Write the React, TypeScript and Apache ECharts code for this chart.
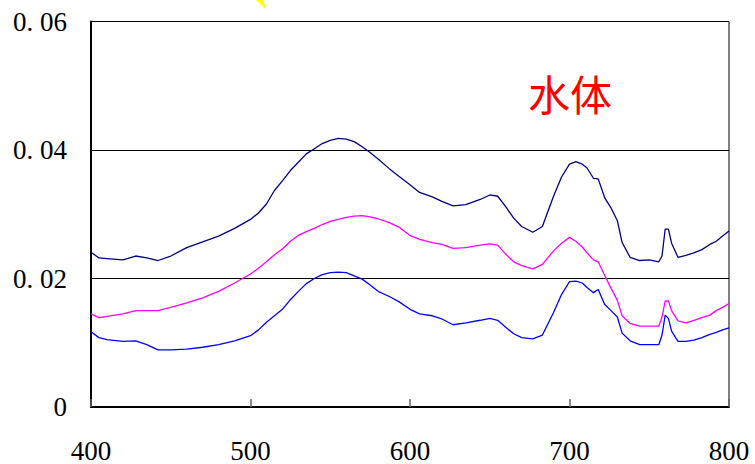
import React, { useEffect, useRef } from "react";
import * as echarts from "echarts";

const wavelengths = [400,405,410,420,428,435,442,450,460,470,480,490,500,505,510,515,520,525,530,535,540,545,550,555,560,565,570,575,580,587,593,600,606,614,620,627,635,644,650,655,660,665,670,677,683,690,695,700,704,708,711,715,718,722,726,730,733,738,744,750,756,758,760,762,764,768,773,778,783,788,792,796,800];

const navyValues = [0.0241,0.0232,0.0231,0.0229,0.0235,0.0232,0.0228,0.0235,0.0248,0.0257,0.0266,0.0278,0.0292,0.0302,0.0316,0.0337,0.0352,0.0368,0.0381,0.0394,0.0402,0.0410,0.0415,0.0418,0.0417,0.0413,0.0405,0.0396,0.0386,0.0371,0.0359,0.0346,0.0334,0.0327,0.0320,0.0313,0.0315,0.0323,0.0330,0.0328,0.0312,0.0294,0.0281,0.0272,0.0281,0.0328,0.0358,0.0378,0.0382,0.0378,0.0372,0.0356,0.0355,0.0326,0.0310,0.0290,0.0256,0.0233,0.0228,0.0229,0.0226,0.0235,0.0277,0.0277,0.0255,0.0233,0.0236,0.0240,0.0245,0.0253,0.0258,0.0266,0.0274];

const magentaValues = [0.0145,0.0139,0.0141,0.0145,0.0150,0.0150,0.0150,0.0155,0.0162,0.0170,0.0180,0.0193,0.0207,0.0216,0.0226,0.0237,0.0246,0.0258,0.0267,0.0273,0.0278,0.0284,0.0289,0.0292,0.0295,0.0297,0.0298,0.0296,0.0293,0.0287,0.0280,0.0267,0.0261,0.0256,0.0253,0.0247,0.0248,0.0252,0.0254,0.0252,0.0238,0.0226,0.0220,0.0215,0.0222,0.0243,0.0255,0.0264,0.0258,0.0249,0.0240,0.0229,0.0226,0.0205,0.0185,0.0166,0.0142,0.0130,0.0126,0.0126,0.0126,0.0140,0.0165,0.0165,0.0150,0.0134,0.0131,0.0135,0.0139,0.0143,0.0150,0.0155,0.0161];

const blueValues = [0.0117,0.0108,0.0105,0.0102,0.0103,0.0097,0.0089,0.0089,0.0090,0.0093,0.0097,0.0103,0.0111,0.0120,0.0132,0.0142,0.0152,0.0167,0.0180,0.0192,0.0200,0.0206,0.0209,0.0210,0.0209,0.0204,0.0199,0.0190,0.0180,0.0172,0.0164,0.0152,0.0145,0.0142,0.0137,0.0128,0.0131,0.0135,0.0138,0.0135,0.0124,0.0114,0.0108,0.0106,0.0112,0.0147,0.0175,0.0195,0.0196,0.0193,0.0186,0.0178,0.0183,0.0160,0.0150,0.0140,0.0115,0.0103,0.0097,0.0097,0.0097,0.0112,0.0143,0.0138,0.0118,0.0102,0.0102,0.0104,0.0108,0.0113,0.0116,0.0120,0.0123];

const xTicks = ["400", "500", "600", "700", "800"];
const annotation = "水体";

const pairs = (vals: number[]) => wavelengths.map((w, i) => [w, vals[i]]);

export default function App() {
  const ref = useRef<HTMLDivElement>(null);
  useEffect(() => {
    if (!ref.current) return;
    const chart = echarts.init(ref.current, null, { renderer: "svg" });
    const font = "Liberation Serif";
    const mkLine = (name: string, color: string, vals: number[]) => ({
      name,
      type: "line",
      data: pairs(vals),
      showSymbol: false,
      symbol: "none",
      lineStyle: { color, width: 1.3 },
      z: 3,
    });
    chart.setOption({
      animation: false,
      backgroundColor: "#ffffff",
      grid: {
        left: 91,
        right: 26,
        top: 21.5,
        bottom: 56,
        show: true,
        borderColor: "#000",
        borderWidth: 1,
        backgroundColor: "transparent",
      },
      xAxis: {
        type: "value",
        min: 400,
        max: 800,
        interval: 100,
        axisLine: { show: true, lineStyle: { color: "#000", width: 2 } },
        axisTick: { show: true, inside: true, length: 8, lineStyle: { color: "#666", width: 1.5 } },
        splitLine: { show: false },
        axisLabel: {
          color: "#000",
          fontFamily: font,
          fontSize: 27,
          margin: 30,
          formatter: (v: number) => xTicks[Math.round((v - 400) / 100)] ?? String(v),
        },
      },
      yAxis: {
        type: "value",
        min: 0,
        max: 0.06,
        interval: 0.02,
        axisLine: { show: true, lineStyle: { color: "#000", width: 2 } },
        axisTick: { show: true, inside: true, length: 8, lineStyle: { color: "#000", width: 1 } },
        splitLine: { show: true, lineStyle: { color: "#000", width: 1 } },
        axisLabel: {
          color: "#000",
          fontFamily: font,
          fontSize: 27,
          margin: 24,
          padding: [4, 0, 0, 0],
          formatter: (v: number) => (v === 0 ? "0" : v.toFixed(2).replace(".", ". ")),
        },
      },
      graphic: [
        {
          type: "polygon",
          shape: { points: [[256, 0], [263, 0], [266.5, 9.5]] },
          style: { fill: "#ffff00" },
          z: 10,
        },
        {
          type: "text",
          x: 528,
          y: 92,
          style: {
            text: annotation,
            fill: "#ff0000",
            fontSize: 42,
            fontFamily: "Noto Sans CJK SC",
            verticalAlign: "middle",
          },
          z: 10,
        },
      ],
      series: [
        mkLine("A", "#000080", navyValues),
        mkLine("B", "#ff00ff", magentaValues),
        mkLine("C", "#0000ff", blueValues),
      ],
    });
    return () => chart.dispose();
  }, []);
  return <div ref={ref} style={{ position: "fixed", left: 0, top: 0, width: 755, height: 464 }} />;
}
